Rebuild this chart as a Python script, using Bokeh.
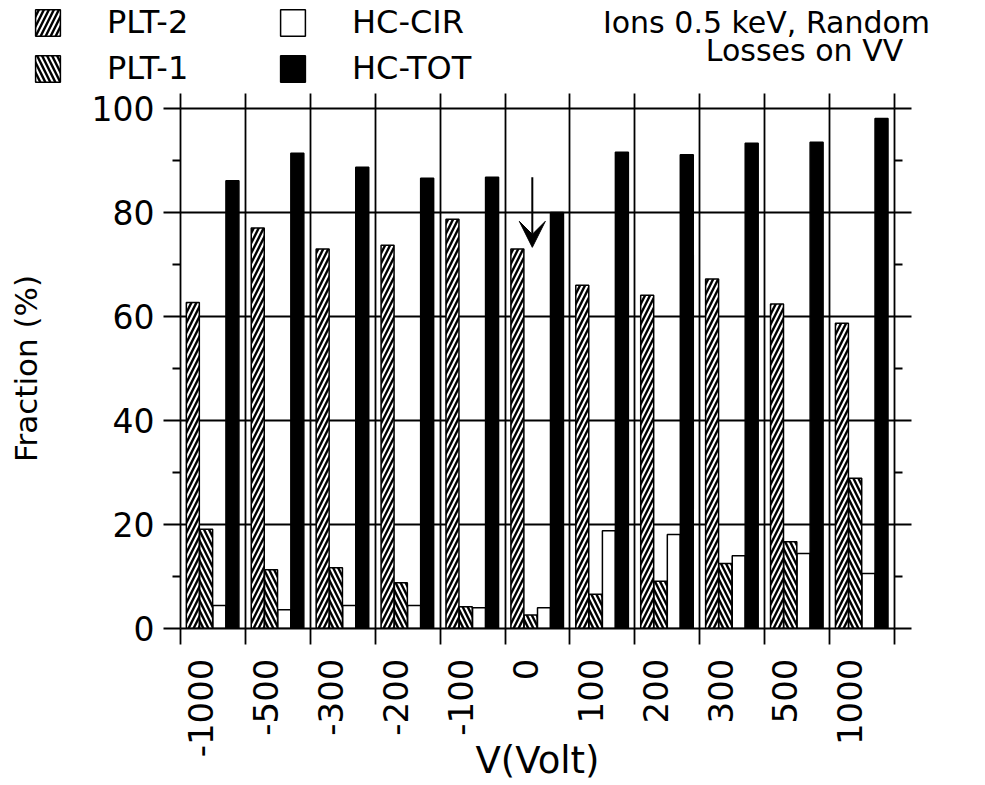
import math
from bokeh.plotting import figure
from bokeh.layouts import column
from bokeh.models import (Range1d, FixedTicker, LinearAxis, Legend, LegendItem,
                          Label, Arrow, VeeHead)
from bokeh.embed import file_html
from bokeh.resources import INLINE

# ---------------- data ----------------
VOLTAGES = ["-1000", "-500", "-300", "-200", "-100", "0", "100", "200", "300", "500", "1000"]
PLT2 = [62.7, 77.0, 73.0, 73.7, 78.7, 73.0, 66.0, 64.1, 67.2, 62.4, 58.7]
PLT1 = [19.1, 11.3, 11.7, 8.8, 4.2, 2.6, 6.6, 9.1, 12.5, 16.7, 28.9]
HC_CIR = [4.4, 3.6, 4.4, 4.4, 4.0, 4.0, 18.8, 18.1, 14.0, 14.4, 10.6]
HC_TOT = [86.1, 91.4, 88.7, 86.6, 86.8, 80.0, 91.6, 91.1, 93.3, 93.5, 98.1]
SERIES_NAMES = ["PLT-2", "PLT-1", "HC-CIR", "HC-TOT"]
Y_TICKS = [0, 20, 40, 60, 80, 100]
Y_MINOR = [10, 30, 50, 70, 90]
TITLE_1 = "Ions 0.5 keV, Random"
TITLE_2 = "Losses on VV"
X_TITLE = "V(Volt)"
Y_TITLE = "Fraction (%)"
ARROW_CATEGORY = "0"
ARROW_FROM = 86.8
ARROW_TO = 73.3

# ---------------- layout / style ----------------
FONT = "DejaVu Sans"
n = len(VOLTAGES)
slots = list(range(n))
BAR_W = 0.2
OFFSETS = [0.19, 0.395, 0.6, 0.8]
LABEL_OFF = 0.3125
LW = 1.8
HEADER_H = 88

STYLES = [
    dict(fill_color="white", hatch_pattern="/", hatch_color="black", hatch_weight=2.4, hatch_scale=10),
    dict(fill_color="white", hatch_pattern="\\", hatch_color="black", hatch_weight=2.4, hatch_scale=10),
    dict(fill_color="white"),
    dict(fill_color="black"),
]
SERIES = [PLT2, PLT1, HC_CIR, HC_TOT]

# ---------------- main chart ----------------
p = figure(width=985, height=785 - HEADER_H, x_range=Range1d(0, n), y_range=Range1d(0, 100),
           output_backend="svg", toolbar_location=None,
           min_border_left=180, min_border_right=91, min_border_top=108 - HEADER_H,
           min_border_bottom=157)
p.frame_align = False
p.outline_line_color = None
p.background_fill_color = "white"
p.border_fill_color = "white"

# grid
p.xgrid.ticker = FixedTicker(ticks=list(range(n + 1)))
p.ygrid.ticker = FixedTicker(ticks=Y_TICKS)
for g in (p.xgrid, p.ygrid):
    g.grid_line_color = "black"
    g.grid_line_width = LW
    g.grid_line_alpha = 1.0

# bars
for k, (vals, st) in enumerate(zip(SERIES, STYLES)):
    p.vbar(x=[i + OFFSETS[k] for i in slots], top=vals, width=BAR_W, bottom=0,
           line_color="black", line_width=1.5, **st)

# arrow
ax = VOLTAGES.index(ARROW_CATEGORY) + 0.42
p.add_layout(Arrow(end=VeeHead(size=26, fill_color="black", line_color="black", line_width=1),
                   x_start=ax, y_start=ARROW_FROM, x_end=ax, y_end=ARROW_TO,
                   line_width=2, line_color="black"))

# bottom axis A: tick marks at slot boundaries
xa = p.xaxis[0]
xa.ticker = FixedTicker(ticks=list(range(n + 1)))
xa.major_label_overrides = {i: "" for i in range(n + 1)}
xa.major_label_text_font_size = "1px"
xa.major_label_standoff = 0
xa.major_tick_out = 16
xa.major_tick_in = 0
xa.minor_tick_line_color = None
xa.axis_line_width = LW
xa.major_tick_line_width = LW
xa.axis_line_color = "black"
xa.major_tick_line_color = "black"

# bottom axis B: voltage labels
label_ticks = [i + LABEL_OFF for i in slots]
xb = LinearAxis(ticker=FixedTicker(ticks=label_ticks),
                major_label_overrides={t: v for t, v in zip(label_ticks, VOLTAGES)},
                major_label_orientation=math.pi / 2,
                major_label_text_font=FONT, major_label_text_font_size="34px",
                major_label_text_color="black",
                major_label_standoff=8,
                major_tick_line_color=None, minor_tick_line_color=None,
                axis_line_color=None,
                axis_label=X_TITLE, axis_label_text_font=FONT,
                axis_label_text_font_size="37px", axis_label_text_font_style="normal",
                axis_label_text_color="black", axis_label_standoff=-21)
p.add_layout(xb, "below")

# left axis
ya = p.yaxis[0]
ya.ticker = FixedTicker(ticks=Y_TICKS, minor_ticks=Y_MINOR)
ya.major_tick_out = 17
ya.major_tick_in = 0
ya.minor_tick_out = 8
ya.minor_tick_in = 0
ya.major_label_text_font = FONT
ya.major_label_text_font_size = "33px"
ya.major_label_text_color = "black"
ya.major_label_standoff = 9
ya.axis_label = Y_TITLE
ya.axis_label_text_font = FONT
ya.axis_label_text_font_size = "31px"
ya.axis_label_text_font_style = "normal"
ya.axis_label_text_color = "black"
ya.axis_label_standoff = 45
ya.axis_line_width = LW
ya.major_tick_line_width = LW
ya.minor_tick_line_width = LW
ya.axis_line_color = "black"
ya.major_tick_line_color = "black"
ya.minor_tick_line_color = "black"

# right axis
yr = LinearAxis(ticker=FixedTicker(ticks=Y_TICKS, minor_ticks=Y_MINOR),
                major_label_overrides={t: "" for t in Y_TICKS},
                major_label_text_font_size="1px", major_label_standoff=0,
                major_tick_out=17, major_tick_in=0, minor_tick_out=8, minor_tick_in=0,
                axis_line_width=LW, major_tick_line_width=LW, minor_tick_line_width=LW,
                axis_line_color="black", major_tick_line_color="black",
                minor_tick_line_color="black")
p.add_layout(yr, "right")

# top axis
xt = LinearAxis(ticker=FixedTicker(ticks=list(range(n + 1))),
                major_label_overrides={i: "" for i in range(n + 1)},
                major_label_text_font_size="1px", major_label_standoff=0,
                major_tick_out=15, major_tick_in=0, minor_tick_line_color=None,
                axis_line_width=LW, major_tick_line_width=LW,
                axis_line_color="black", major_tick_line_color="black")
p.add_layout(xt, "above")

# ---------------- header: legend + titles ----------------
h = figure(width=985, height=HEADER_H, x_range=Range1d(0, 1), y_range=Range1d(0, 1),
           output_backend="svg", toolbar_location=None,
           min_border_left=0, min_border_right=0, min_border_top=0, min_border_bottom=0)
h.frame_align = False
h.axis.visible = False
h.grid.visible = False
h.outline_line_color = None
h.background_fill_color = "white"
h.border_fill_color = "white"

# legend swatch renderers (same series, hidden; only their legend glyphs are drawn)
swatches = []
for k, (vals, st) in enumerate(zip(SERIES, STYLES)):
    r = h.vbar(x=[i + OFFSETS[k] for i in slots], top=vals, width=BAR_W, bottom=0,
               line_color="black", line_width=1.5, **st)
    r.visible = False
    swatches.append(r)

legend = Legend(items=[LegendItem(label=name, renderers=[r]) for name, r in zip(SERIES_NAMES, swatches)],
                location=(32, 1), orientation="vertical", ncols=2,
                glyph_width=31, glyph_height=33, label_standoff=44, label_width=162,
                spacing=8, padding=0, margin=0,
                border_line_color=None, background_fill_alpha=0,
                inactive_fill_alpha=0,
                label_text_font=FONT, label_text_font_size="32px",
                label_text_color="black")
h.add_layout(legend)

h.add_layout(Label(x=766, y=HEADER_H - 22, x_units="screen", y_units="screen", text=TITLE_1,
                   text_align="center", text_baseline="alphabetic",
                   text_font=FONT, text_font_size="30px", text_color="black"))
h.add_layout(Label(x=804, y=HEADER_H - 50, x_units="screen", y_units="screen", text=TITLE_2,
                   text_align="center", text_baseline="alphabetic",
                   text_font=FONT, text_font_size="30px", text_color="black"))

layout = column(h, p, spacing=0)
open("out.html", "w").write(file_html(layout, INLINE))
